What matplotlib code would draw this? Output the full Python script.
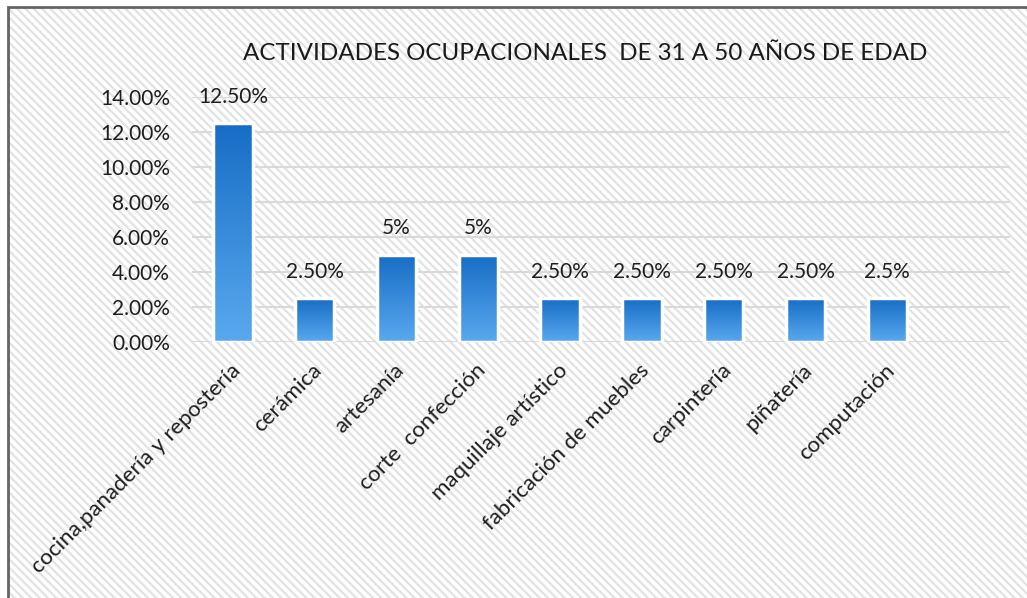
import numpy as np
import matplotlib
matplotlib.use("Agg")
import matplotlib.pyplot as plt
from matplotlib.patches import Rectangle
from matplotlib.colors import LinearSegmentedColormap
import matplotlib.transforms as mtransforms

# activity shares for the 31-50 age group
actividades = ["cocina,panadería y repostería", "cerámica", "artesanía",
               "corte  confección", "maquillaje artístico",
               "fabricación de muebles", "carpintería", "piñatería",
               "computación"]
porcentajes = [0.125, 0.025, 0.05, 0.05, 0.025, 0.025, 0.025, 0.025, 0.025]
etiquetas = ["12.50%", "2.50%", "5%", "5%", "2.50%", "2.50%", "2.50%",
             "2.50%", "2.5%"]
yticks = [0.0, 0.02, 0.04, 0.06, 0.08, 0.10, 0.12, 0.14]

plt.rcParams["font.family"] = ["Lato", "DejaVu Sans"]
plt.rcParams["hatch.linewidth"] = 1.6

fig = plt.figure(figsize=(10.27, 5.98), dpi=100)
W, H = 1027, 598

# striped chart-area background and its frame
bg = Rectangle((8 / W, 0), 1.0, 1 - 7 / H, transform=fig.transFigure,
               facecolor="white", edgecolor="#e2e2e2", lw=0, hatch="\\\\\\\\",
               zorder=-2)
fig.patches.append(bg)
frame = Rectangle((8 / W, -0.05), 1.0, 1.05 - 7 / H, transform=fig.transFigure,
                  facecolor="none", edgecolor="#646464", lw=2, zorder=-1)
fig.patches.append(frame)

ax = fig.add_axes([192 / W, (H - 342) / H, (1010 - 192) / W, 245 / H])
ax.patch.set_alpha(0)

x = np.arange(len(actividades))
ancho = 0.48
cmap = LinearSegmentedColormap.from_list("azul", ["#5aa9ef", "#176dc5"])
grad = np.linspace(0, 1, 256).reshape(-1, 1)

barras = ax.bar(x, porcentajes, width=ancho, color="none", edgecolor="white",
                linewidth=2.5, zorder=3)
for b in barras:
    x0, y0 = b.get_x(), b.get_y()
    w, h = b.get_width(), b.get_height()
    im = ax.imshow(grad, cmap=cmap, origin="lower", aspect="auto",
                   extent=[x0, x0 + w, y0, y0 + h], zorder=2)
    im.set_clip_path(Rectangle((x0, y0), w, h, transform=ax.transData))

for xi, v, t in zip(x, porcentajes, etiquetas):
    ax.annotate(t, (xi, v), xytext=(0, 19), textcoords="offset points",
                ha="center", va="center", fontsize=15, color="#1e1e1e")

ax.set_xlim(-0.5, 9.5)
ax.set_ylim(0, 0.14)
ax.set_yticks(yticks)
ax.set_yticklabels([f"{v * 100:.2f}%" for v in yticks])
ax.yaxis.grid(True, color="#d9d9d9", lw=1.5, zorder=1)
ax.set_axisbelow(True)
for s in ax.spines.values():
    s.set_visible(False)
ax.tick_params(axis="y", length=0, pad=16, labelsize=15, labelcolor="#1e1e1e")
ax.tick_params(axis="x", length=0, pad=13, labelsize=16, labelcolor="#1e1e1e")

ax.set_xticks(x)
ax.set_xticklabels(actividades, rotation=45, ha="right", va="top",
                   rotation_mode="anchor")
shift = mtransforms.ScaledTranslation(-3 / 100, 0, fig.dpi_scale_trans)
for lbl in ax.get_xticklabels():
    lbl.set_transform(lbl.get_transform() + shift)

fig.text(585 / W, 1 - 53 / H, "ACTIVIDADES OCUPACIONALES  DE 31 A 50 AÑOS DE EDAD",
         ha="center", va="center", fontsize=17.35, color="#1a1a1a")

fig.savefig("out.png", dpi=100)
